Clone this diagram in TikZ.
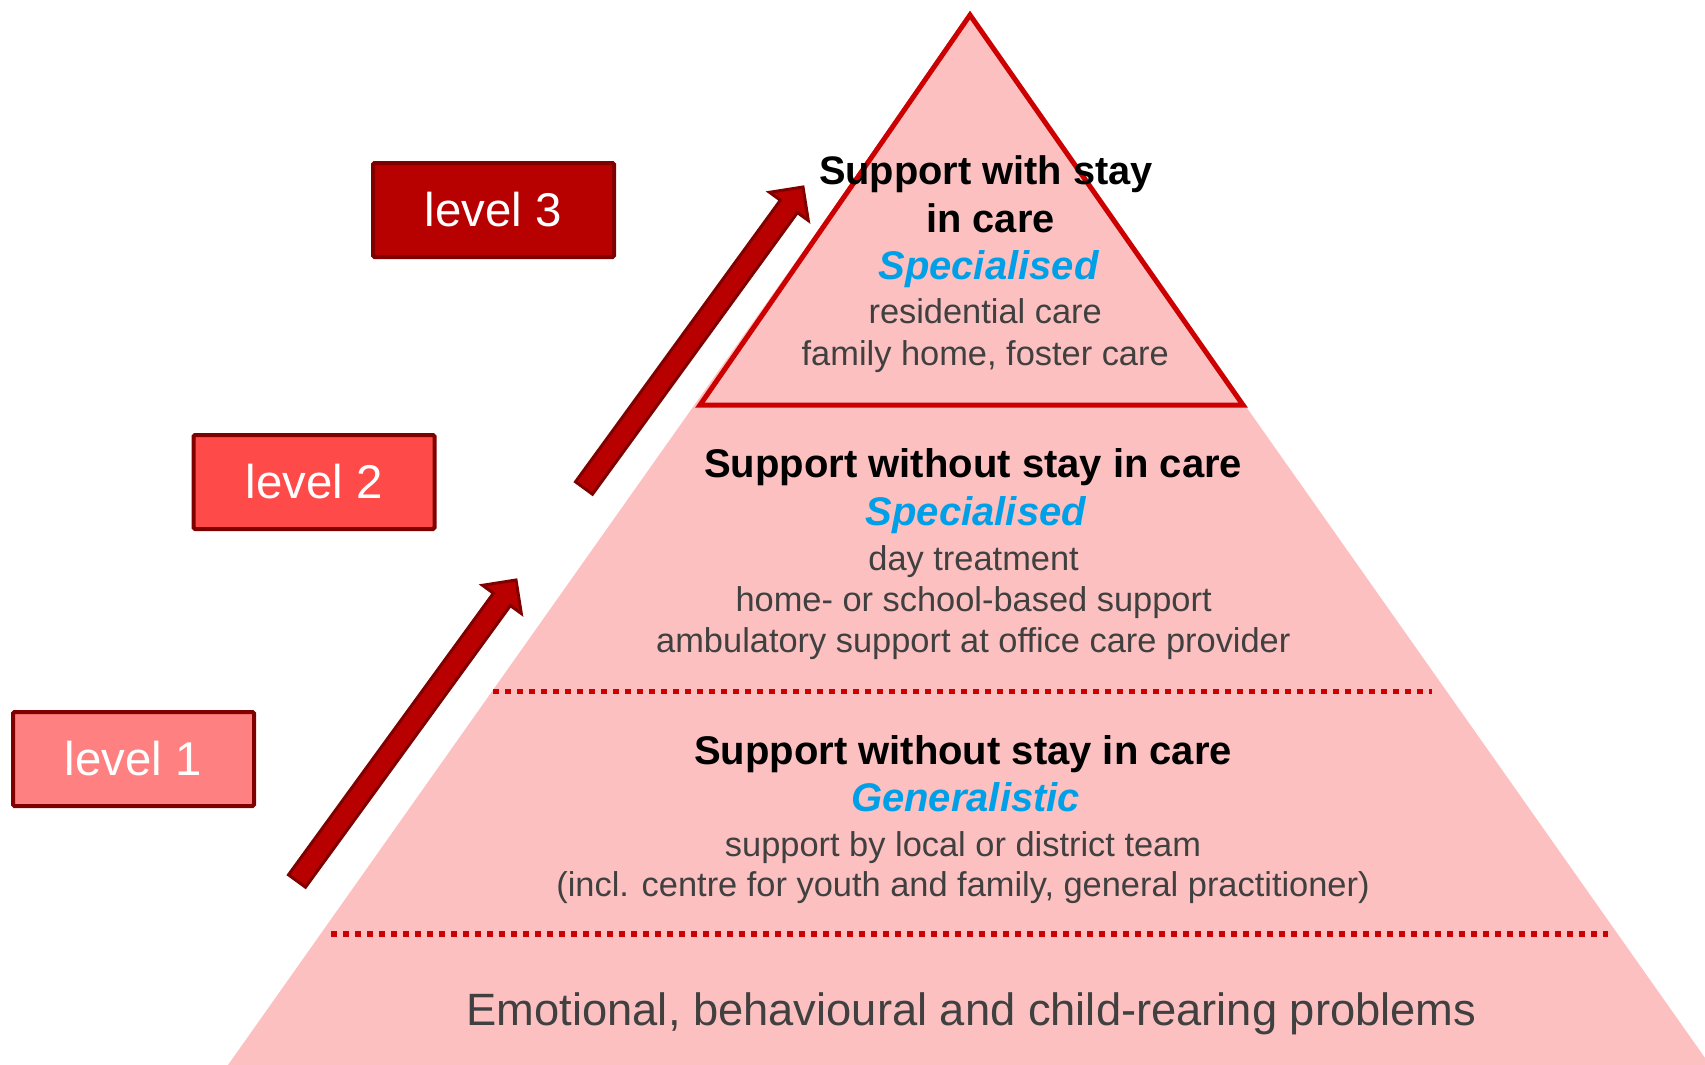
\documentclass[tikz,border=0pt]{standalone}
\usepackage{fontspec}
\setmainfont{Liberation Sans}
\definecolor{pyr}{RGB}{252,192,192}
\definecolor{trired}{RGB}{204,0,0}
\definecolor{darkbd}{RGB}{128,0,0}
\definecolor{arrfill}{RGB}{184,0,0}
\definecolor{levthree}{RGB}{183,0,0}
\definecolor{levtwo}{RGB}{255,74,74}
\definecolor{levone}{RGB}{255,128,128}
\definecolor{bluetx}{RGB}{0,160,232}
\definecolor{graytx}{RGB}{64,64,64}
\begin{document}
\begin{tikzpicture}[x=1pt,y=-1pt,
  hd/.style={anchor=base,inner sep=0pt,font=\fontsize{40}{44}\selectfont\bfseries,text=black},
  hdtop/.style={hd,font=\fontsize{39.8}{44}\selectfont\bfseries},
  bl/.style={anchor=base,inner sep=0pt,font=\fontsize{40}{44}\selectfont\bfseries\itshape,text=bluetx},
  gy/.style={anchor=base,inner sep=0pt,font=\fontsize{34.4}{40}\selectfont,text=graytx},
  bigtx/.style={anchor=base,inner sep=0pt,font=\fontsize{45.3}{50}\selectfont,text=graytx},
  lvbox/.style={draw=darkbd,line width=4pt,rounded corners=1.5pt,minimum width=241pt,minimum height=94pt,inner sep=0pt,text=white,font=\fontsize{47.4}{50}\selectfont},
  tri/.style={draw=trired,line width=5pt,line join=miter},
  dotline/.style={draw=trired,line width=5.5pt,dash pattern=on 6pt off 6pt},
  arrowfill/.style={fill=arrfill,draw=darkbd,line width=3pt,line join=miter},
  uparrow/.pic={\path[arrowfill] (-8.5,-6.2) -- (196.4,-287.8) -- (185.5,-295.7) -- (219,-301) -- (224.3,-267.5) -- (213.4,-275.4) -- (8.5,6.2) -- cycle;}
]
\useasboundingbox (0,0) rectangle (1705,1065);
\clip (0,0) rectangle (1705,1065);

% pyramid
\coordinate (apex) at (970,15);
\coordinate (bl) at (228,1065);
\coordinate (br) at (1710,1065);
\coordinate (tl) at (700,405);
\coordinate (tr) at (1243,405);
\fill[pyr] (apex) -- (bl) -- (br) -- cycle;
\draw[tri] (apex) -- (tl) -- (tr) -- cycle;

% dotted separators
\coordinate (d1a) at (493,691.5);
\coordinate (d1b) at (1432,691.5);
\coordinate (d2a) at (331,934);
\coordinate (d2b) at (1608,934);
\draw[dotline] (d1a) -- (d1b);
\draw[dotline] (d2a) -- (d2b);

% arrows
\pic (arrA) at (297,881) {uparrow};
\pic (arrB) at (584,488) {uparrow};

% level boxes
\node[lvbox,fill=levthree] (lv3) at (493.5,210) {level 3};
\node[lvbox,fill=levtwo] (lv2) at (314,482) {level 2};
\node[lvbox,fill=levone] (lv1) at (133.5,759) {level 1};

% top level texts
\node[hdtop] (t1) at (986,184.6) {Support with stay};
\node[hdtop] (t2) at (990.5,232) {in care};
\node[bl] (t3) at (988.4,279.3) {Specialised};
\node[gy] (t4) at (985.2,323) {residential care};
\node[gy] (t5) at (985.2,365) {family home, foster care};

% middle level texts
\node[hd] (m1) at (973.2,477.5) {Support without stay in care};
\node[bl] (m2) at (975.9,525.7) {Specialised};
\node[gy] (m3) at (973.6,570) {day treatment};
\node[gy] (m4) at (973.6,611) {home- or school-based support};
\node[gy] (m5) at (973.3,652) {ambulatory support at office care provider};

% lower level texts
\node[hd] (b1) at (963,764) {Support without stay in care};
\node[bl] (b2) at (965.6,811.7) {Generalistic};
\node[gy] (b3) at (963,856) {support by local or district team};
\node[gy] (b4) at (963,896) {(incl. centre for youth and family, general practitioner)};

% base text
\node[bigtx] (e1) at (971.5,1025) {Emotional, behavioural and child-rearing problems};
\end{tikzpicture}
\end{document}
